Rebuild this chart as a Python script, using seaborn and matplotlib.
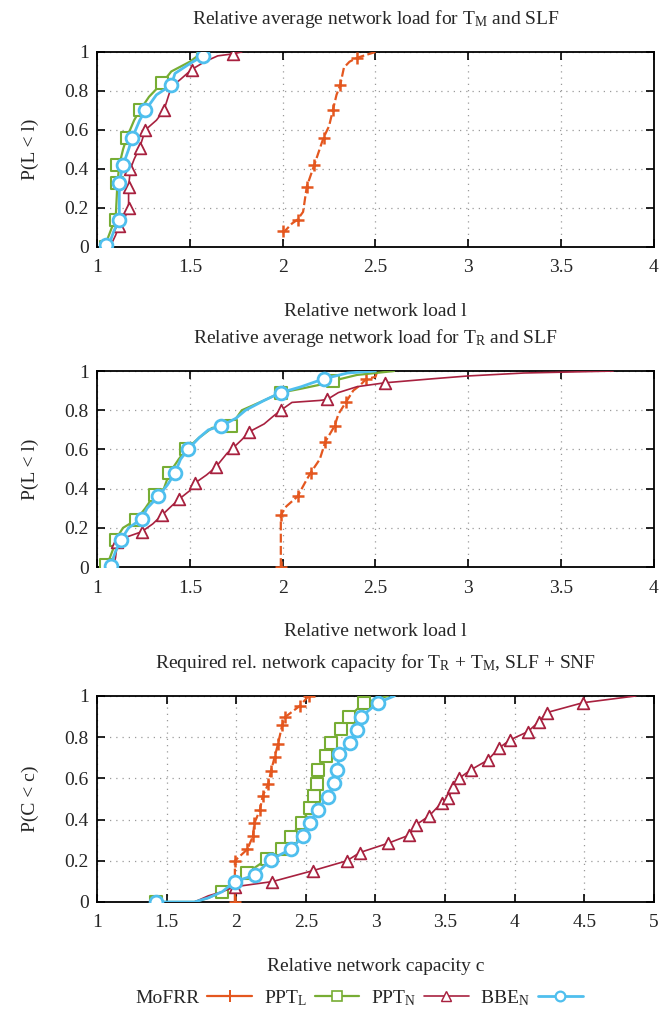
import numpy as np
import pandas as pd
import matplotlib
matplotlib.use("Agg")
import matplotlib.pyplot as plt
from matplotlib.lines import Line2D
from matplotlib.ticker import FormatStrFormatter
import seaborn as sns

# --- data (line vertices + marked sample points) ---

# panel 1: T_M, SLF
p1_mofrr_x = [2.0, 2.05, 2.08, 2.11, 2.13, 2.17, 2.22, 2.25, 2.27, 2.29, 2.31, 2.33, 2.36, 2.40, 2.50]
p1_mofrr_y = [0.07, 0.12, 0.14, 0.18, 0.31, 0.42, 0.56, 0.62, 0.70, 0.78, 0.83, 0.92, 0.95, 0.97, 1.0]
p1_mofrr_mx = [2.0, 2.08, 2.13, 2.17, 2.22, 2.27, 2.31, 2.40]
p1_mofrr_my = [0.08, 0.14, 0.31, 0.42, 0.56, 0.70, 0.83, 0.97]

p1_pptl_x = [1.04, 1.08, 1.10, 1.11, 1.12, 1.14, 1.16, 1.20, 1.23, 1.28, 1.35, 1.40, 1.50, 1.57]
p1_pptl_y = [0.0, 0.10, 0.14, 0.33, 0.42, 0.50, 0.56, 0.65, 0.70, 0.77, 0.84, 0.90, 0.95, 1.0]
p1_pptl_mx = [1.05, 1.10, 1.11, 1.11, 1.16, 1.23, 1.35, 1.57]
p1_pptl_my = [0.0, 0.14, 0.33, 0.42, 0.56, 0.70, 0.84, 1.0]

p1_pptn_x = [1.07, 1.10, 1.12, 1.15, 1.17, 1.17, 1.18, 1.20, 1.23, 1.26, 1.32, 1.36, 1.40, 1.45, 1.51, 1.58, 1.65, 1.73, 1.78]
p1_pptn_y = [0.0, 0.06, 0.11, 0.15, 0.20, 0.31, 0.40, 0.45, 0.51, 0.60, 0.65, 0.70, 0.82, 0.86, 0.91, 0.95, 0.98, 0.99, 1.0]
p1_pptn_mx = [1.12, 1.17, 1.17, 1.18, 1.23, 1.26, 1.36, 1.51, 1.73]
p1_pptn_my = [0.11, 0.20, 0.31, 0.40, 0.51, 0.60, 0.70, 0.91, 0.99]

p1_bben_x = [1.06, 1.09, 1.12, 1.12, 1.14, 1.17, 1.19, 1.23, 1.26, 1.32, 1.40, 1.42, 1.50, 1.57, 1.58]
p1_bben_y = [0.0, 0.08, 0.14, 0.33, 0.42, 0.50, 0.56, 0.65, 0.70, 0.78, 0.83, 0.89, 0.94, 0.98, 1.0]
p1_bben_mx = [1.05, 1.12, 1.12, 1.14, 1.19, 1.26, 1.40, 1.57]
p1_bben_my = [0.01, 0.14, 0.33, 0.42, 0.56, 0.70, 0.83, 0.98]

# panel 2: T_R, SLF
p2_mofrr_x = [1.99, 1.99, 2.02, 2.08, 2.12, 2.15, 2.20, 2.23, 2.28, 2.30, 2.34, 2.38, 2.42, 2.45, 2.50, 2.51]
p2_mofrr_y = [0.0, 0.265, 0.31, 0.36, 0.43, 0.48, 0.55, 0.64, 0.72, 0.78, 0.84, 0.90, 0.93, 0.96, 0.97, 1.0]
p2_mofrr_mx = [1.99, 1.99, 2.08, 2.15, 2.23, 2.28, 2.34, 2.45]
p2_mofrr_my = [0.0, 0.265, 0.36, 0.48, 0.64, 0.72, 0.84, 0.96]

p2_pptl_x = [1.05, 1.09, 1.10, 1.14, 1.21, 1.26, 1.31, 1.36, 1.39, 1.44, 1.48, 1.55, 1.62, 1.72,
             1.78, 1.90, 1.99, 2.10, 2.20, 2.27, 2.40, 2.60]
p2_pptl_y = [0.0, 0.10, 0.14, 0.20, 0.24, 0.30, 0.37, 0.40, 0.48, 0.55, 0.60, 0.66, 0.71, 0.72,
             0.80, 0.85, 0.89, 0.91, 0.93, 0.95, 0.98, 1.0]
p2_pptl_mx = [1.05, 1.10, 1.21, 1.31, 1.39, 1.48, 1.72, 1.99, 2.27]
p2_pptl_my = [0.01, 0.14, 0.24, 0.37, 0.48, 0.60, 0.72, 0.89, 0.95]

p2_pptn_x = [1.09, 1.10, 1.11, 1.15, 1.24, 1.30, 1.35, 1.40, 1.44, 1.50, 1.53, 1.59, 1.64, 1.70,
             1.73, 1.78, 1.82, 1.90, 1.95, 1.99, 2.05, 2.20, 2.24, 2.30, 2.40, 2.55, 2.80, 3.00,
             3.30, 3.78]
p2_pptn_y = [0.0, 0.05, 0.13, 0.15, 0.18, 0.22, 0.265, 0.31, 0.345, 0.39, 0.43, 0.47, 0.51, 0.58,
             0.605, 0.65, 0.69, 0.73, 0.77, 0.80, 0.84, 0.85, 0.855, 0.89, 0.92, 0.94, 0.96, 0.975,
             0.99, 1.0]
p2_pptn_mx = [1.11, 1.24, 1.35, 1.44, 1.53, 1.64, 1.73, 1.82, 1.99, 2.24, 2.55]
p2_pptn_my = [0.13, 0.18, 0.265, 0.345, 0.43, 0.51, 0.605, 0.69, 0.80, 0.855, 0.94]

p2_bben_x = [1.07, 1.10, 1.13, 1.17, 1.24, 1.27, 1.33, 1.38, 1.42, 1.45, 1.49, 1.55, 1.60, 1.67,
             1.75, 1.80, 1.90, 1.99, 2.10, 2.22, 2.35, 2.50]
p2_bben_y = [0.0, 0.08, 0.14, 0.20, 0.245, 0.30, 0.36, 0.42, 0.48, 0.55, 0.60, 0.66, 0.70, 0.72,
             0.76, 0.80, 0.85, 0.89, 0.92, 0.96, 0.99, 1.0]
p2_bben_mx = [1.075, 1.13, 1.24, 1.33, 1.42, 1.49, 1.67, 1.99, 2.22]
p2_bben_my = [0.005, 0.14, 0.245, 0.36, 0.48, 0.60, 0.72, 0.89, 0.96]

# panel 3: T_R + T_M, SLF + SNF (capacity)
p3_mofrr_x = [1.99, 1.99, 2.08, 2.12, 2.13, 2.17, 2.19, 2.23, 2.25, 2.275, 2.30, 2.33, 2.35, 2.455, 2.52]
p3_mofrr_y = [0.0, 0.20, 0.256, 0.32, 0.382, 0.447, 0.515, 0.573, 0.637, 0.702, 0.767, 0.859, 0.897, 0.951, 1.0]

p3_pptl_x = [1.42, 1.70, 1.80, 1.90, 2.00, 2.08, 2.22, 2.33, 2.39, 2.47, 2.53, 2.557, 2.578,
             2.588, 2.647, 2.68, 2.749, 2.81, 2.919, 3.09]
p3_pptl_y = [0.0, 0.0, 0.02, 0.05, 0.09, 0.142, 0.207, 0.256, 0.317, 0.385, 0.455, 0.516, 0.573,
             0.64, 0.709, 0.77, 0.838, 0.90, 0.967, 1.0]
p3_pptl_mx = [1.42, 1.90, 2.08, 2.22, 2.33, 2.39, 2.47, 2.53, 2.557, 2.578, 2.588, 2.647, 2.68, 2.749, 2.81, 2.919]
p3_pptl_my = [0.0, 0.05, 0.142, 0.207, 0.256, 0.317, 0.385, 0.455, 0.516, 0.573, 0.64, 0.709, 0.77, 0.838, 0.90, 0.967]

p3_pptn_x = [1.42, 1.70, 1.80, 1.90, 1.99, 2.26, 2.55, 2.795, 2.888, 3.09, 3.244, 3.29, 3.384,
             3.476, 3.523, 3.56, 3.60, 3.684, 3.807, 3.885, 3.965, 4.095, 4.173, 4.229, 4.489, 4.87]
p3_pptn_y = [0.0, 0.0, 0.03, 0.05, 0.074, 0.099, 0.152, 0.20, 0.24, 0.285, 0.325, 0.374, 0.417,
             0.482, 0.503, 0.56, 0.60, 0.641, 0.689, 0.746, 0.786, 0.827, 0.875, 0.919, 0.967, 1.0]

p3_bben_x = [1.42, 1.70, 1.80, 1.90, 1.99, 2.136, 2.247, 2.393, 2.48, 2.532, 2.585, 2.656, 2.702,
             2.727, 2.74, 2.82, 2.866, 2.894, 3.018, 3.136]
p3_bben_y = [0.0, 0.0, 0.02, 0.05, 0.099, 0.131, 0.205, 0.257, 0.32, 0.385, 0.447, 0.511, 0.576,
             0.641, 0.718, 0.773, 0.835, 0.897, 0.967, 1.0]
p3_bben_mx = [1.42, 1.99, 2.136, 2.247, 2.393, 2.48, 2.532, 2.585, 2.656, 2.702, 2.727, 2.74,
              2.82, 2.866, 2.894, 3.018]
p3_bben_my = [0.0, 0.099, 0.131, 0.205, 0.257, 0.32, 0.385, 0.447, 0.511, 0.576, 0.641, 0.718,
              0.773, 0.835, 0.897, 0.967]

LABELS = ['MoFRR', r'PPT$_\mathrm{L}$', r'PPT$_\mathrm{N}$', r'BBE$_\mathrm{N}$']
COLORS = ['#e4571f', '#77ad34', '#a8213f', '#4fbfee']

# --- style ---
sns.set_style("ticks")
plt.rcParams['font.family'] = ['Liberation Serif', 'DejaVu Serif']
plt.rcParams['mathtext.fontset'] = 'custom'
plt.rcParams['mathtext.rm'] = 'Liberation Serif'
plt.rcParams['mathtext.it'] = 'Liberation Serif:italic'
plt.rcParams['font.size'] = 14

STYLE = {
    0: dict(marker='+', ls=(0, (4, 1.5)), lw=1.6, s=80, mlw=1.8),
    1: dict(marker='s', ls='-', lw=1.6, s=75, mlw=1.5),
    2: dict(marker='^', ls='-', lw=1.2, s=70, mlw=1.3),
    3: dict(marker='o', ls='-', lw=2.0, s=85, mlw=2.0),
}


def draw_series(ax, i, x, y, mx=None, my=None):
    st = STYLE[i]
    c = COLORS[i]
    df = pd.DataFrame({'x': x, 'y': y})
    sns.lineplot(data=df, x='x', y='y', ax=ax, sort=False, estimator=None,
                 color=c, linewidth=st['lw'], linestyle=st['ls'], zorder=3 + i)
    if mx is None:
        mx, my = x, y
    mdf = pd.DataFrame({'x': mx, 'y': my})
    if st['marker'] == '+':
        sns.scatterplot(data=mdf, x='x', y='y', ax=ax, marker='+', color=c,
                        s=st['s'], linewidth=st['mlw'], zorder=3.5 + i)
    else:
        sns.scatterplot(data=mdf, x='x', y='y', ax=ax, marker=st['marker'],
                        facecolor='white', edgecolor=c, s=st['s'],
                        linewidth=st['mlw'], zorder=3.5 + i)


def style_axes(ax, xmax, title, xlabel, ylabel):
    ax.set_xlim(1, xmax)
    ax.set_ylim(0, 1)
    ax.set_xticks(np.arange(1, xmax + 0.01, 0.5))
    ax.set_yticks(np.arange(0, 1.01, 0.2))
    ax.xaxis.set_major_formatter(FormatStrFormatter('%g'))
    ax.yaxis.set_major_formatter(FormatStrFormatter('%g'))
    ax.tick_params(direction='in', length=6, width=1.2, top=True, right=True,
                   labelsize=14, color='black')
    ax.tick_params(axis='x', pad=9)
    ax.tick_params(axis='y', pad=6)
    ax.grid(True, linestyle=(0, (1, 4)), color='#9a9a9a', linewidth=0.9)
    for sp in ax.spines.values():
        sp.set_visible(True)
        sp.set_linewidth(1.3)
        sp.set_color('black')
    ax.set_title(title, fontsize=14, pad=20)
    ax.set_xlabel(xlabel, fontsize=14, labelpad=19)
    ax.set_ylabel(ylabel, fontsize=14, labelpad=18)


fig = plt.figure(figsize=(6.71, 10.23), dpi=100)
ax1 = fig.add_axes([0.1446, 0.7586, 0.830, 0.1906])
ax2 = fig.add_axes([0.1446, 0.4457, 0.830, 0.1916])
ax3 = fig.add_axes([0.1446, 0.1183, 0.830, 0.2014])

draw_series(ax1, 0, p1_mofrr_x, p1_mofrr_y, p1_mofrr_mx, p1_mofrr_my)
draw_series(ax1, 1, p1_pptl_x, p1_pptl_y, p1_pptl_mx, p1_pptl_my)
draw_series(ax1, 2, p1_pptn_x, p1_pptn_y, p1_pptn_mx, p1_pptn_my)
draw_series(ax1, 3, p1_bben_x, p1_bben_y, p1_bben_mx, p1_bben_my)

draw_series(ax2, 0, p2_mofrr_x, p2_mofrr_y, p2_mofrr_mx, p2_mofrr_my)
draw_series(ax2, 1, p2_pptl_x, p2_pptl_y, p2_pptl_mx, p2_pptl_my)
draw_series(ax2, 2, p2_pptn_x, p2_pptn_y, p2_pptn_mx, p2_pptn_my)
draw_series(ax2, 3, p2_bben_x, p2_bben_y, p2_bben_mx, p2_bben_my)

draw_series(ax3, 0, p3_mofrr_x, p3_mofrr_y)
draw_series(ax3, 1, p3_pptl_x, p3_pptl_y, p3_pptl_mx, p3_pptl_my)
draw_series(ax3, 2, p3_pptn_x, p3_pptn_y, p3_pptn_x[4:-1], p3_pptn_y[4:-1])
draw_series(ax3, 3, p3_bben_x, p3_bben_y, p3_bben_mx, p3_bben_my)

style_axes(ax1, 4, r'Relative average network load for T$_\mathrm{M}$ and SLF',
           'Relative network load l', 'P(L < l)')
style_axes(ax2, 4, r'Relative average network load for T$_\mathrm{R}$ and SLF',
           'Relative network load l', 'P(L < l)')
style_axes(ax3, 5, r'Required rel. network capacity for T$_\mathrm{R}$ + T$_\mathrm{M}$, SLF + SNF',
           'Relative network capacity c', 'P(C < c)')

handles = []
for i, lab in enumerate(LABELS):
    st = STYLE[i]
    handles.append(Line2D([0], [0], color=COLORS[i], linestyle='-', linewidth=st['lw'],
                          marker=st['marker'], markersize=7 if i else 8,
                          markerfacecolor='white' if i else COLORS[i],
                          markeredgecolor=COLORS[i], markeredgewidth=st['mlw'] * 0.8,
                          label=lab))
fig.legend(handles=handles, loc='center', bbox_to_anchor=(0.535, 1 - 998 / 1023),
           ncol=4, frameon=False, markerfirst=False, handlelength=2.3,
           handletextpad=0.4, columnspacing=0.6, fontsize=14, numpoints=1)

fig.savefig('out.png', dpi=100)
